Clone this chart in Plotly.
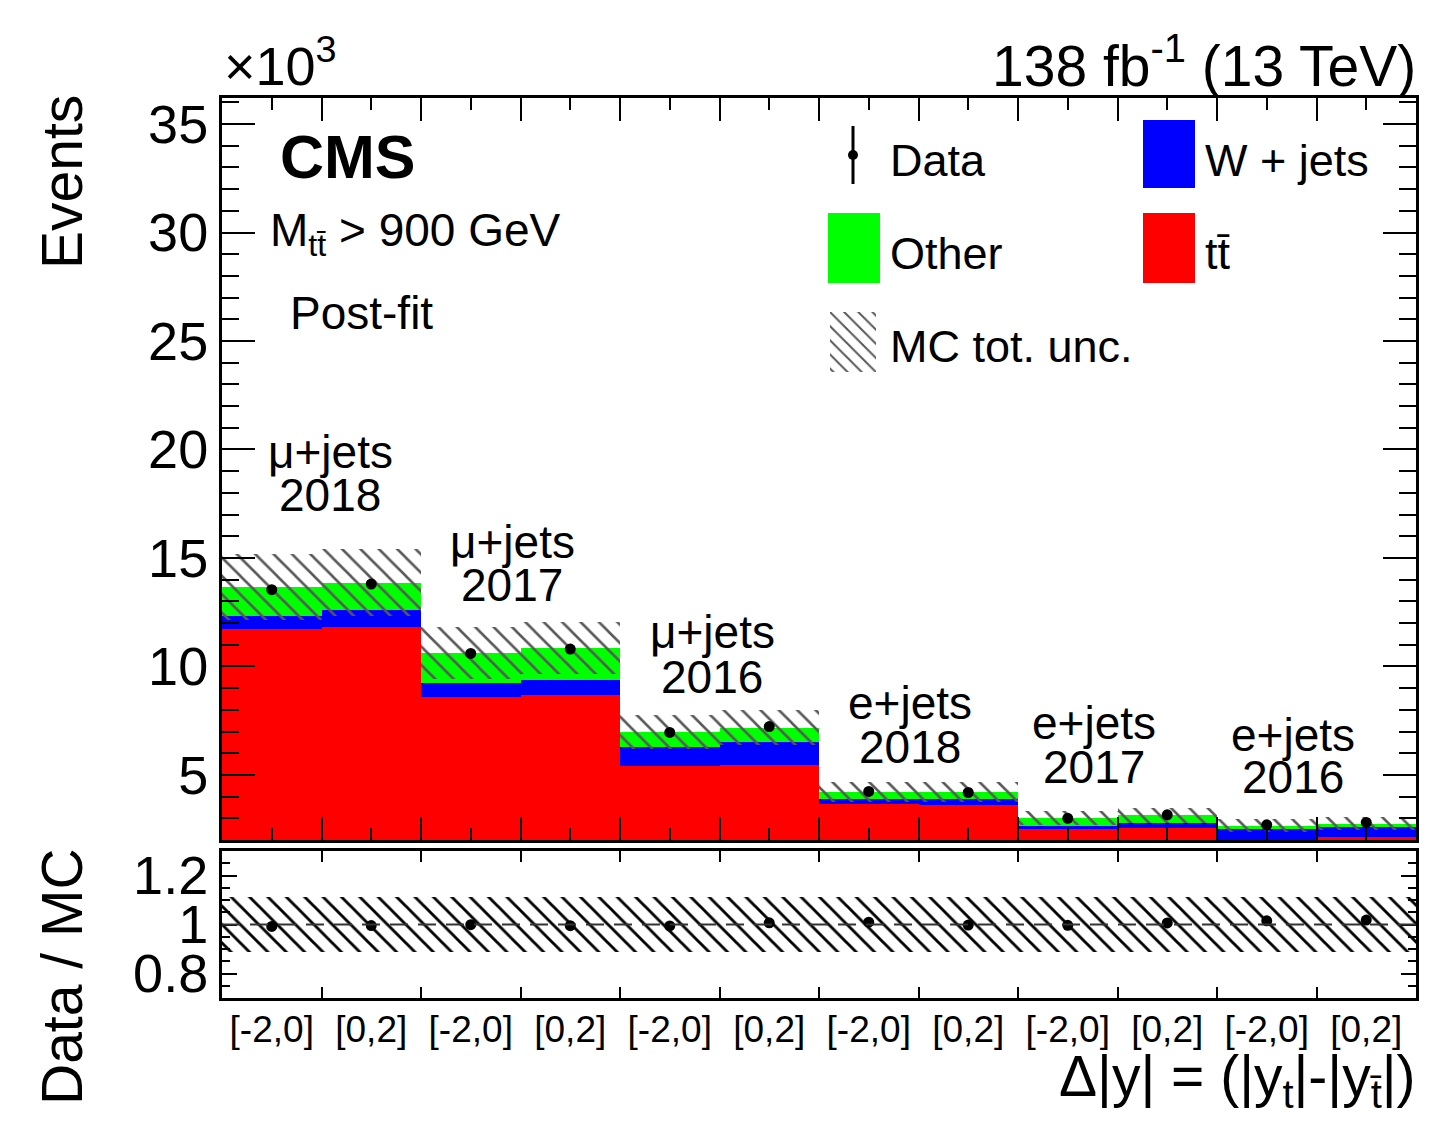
import math
import plotly.graph_objects as go

# ---- data (yields in units of 10^3 events) ----
bin_labels = ["[-2,0]", "[0,2]", "[-2,0]", "[0,2]", "[-2,0]", "[0,2]",
              "[-2,0]", "[0,2]", "[-2,0]", "[0,2]", "[-2,0]", "[0,2]"]
channel_names = ["μ+jets", "μ+jets", "μ+jets", "e+jets", "e+jets", "e+jets"]
channel_years = ["2018", "2017", "2016", "2018", "2017", "2016"]

ttbar = [11.73, 11.83, 8.61, 8.69, 5.41, 5.47, 3.68, 3.63, 2.50, 2.57, 1.98, 2.15]
wjets = [0.61, 0.77, 0.62, 0.69, 0.89, 1.06, 0.21, 0.26, 0.13, 0.23, 0.51, 0.45]
other = [1.31, 1.26, 1.38, 1.47, 0.70, 0.65, 0.31, 0.31, 0.38, 0.34, 0.17, 0.16]
data = [13.54, 13.80, 10.60, 10.80, 6.96, 7.23, 4.24, 4.19, 3.00, 3.16, 2.70, 2.81]
mc_unc_rel = [0.112, 0.112, 0.112, 0.112, 0.112, 0.112,
              0.112, 0.112, 0.112, 0.112, 0.112, 0.112]

# ---- derived quantities ----
nbins = len(bin_labels)
centers = [i + 0.5 for i in range(nbins)]
base_w = ttbar
base_o = [t + w for t, w in zip(ttbar, wjets)]
mc_total = [b + o for b, o in zip(base_o, other)]
unc_lo = [m * (1 - u) for m, u in zip(mc_total, mc_unc_rel)]
unc_h = [2 * m * u for m, u in zip(mc_total, mc_unc_rel)]
stat_err = [math.sqrt(d * 1000.0) / 1000.0 for d in data]
ratio = [d / m for d, m in zip(data, mc_total)]
ratio_err = [e / m for e, m in zip(stat_err, mc_total)]

# ---- canvas geometry ----
W, H = 1434, 1125
L, R, T, B = 222, 18, 98, 127
PW, PH = W - L - R, H - T - B
MAIN_BOTTOM, RATIO_TOP = 840, 851


def fx(px):
    return (px - L) / PW


def fy(py):
    return (H - B - py) / PH


FONT = "Liberation Sans, Arial, Helvetica, sans-serif"
RED, BLUE, GREEN = "#ff0000", "#0000ff", "#00ff00"
HATCH_GREY = "#585858"

fig = go.Figure()

# stacked backgrounds
for vals, base, col, name in [(ttbar, [0] * nbins, RED, "tt"),
                              (wjets, base_w, BLUE, "W + jets"),
                              (other, base_o, GREEN, "Other")]:
    fig.add_trace(go.Bar(x=centers, y=vals, base=base, width=1.0, name=name,
                         marker=dict(color=col, line=dict(width=0)),
                         xaxis="x", yaxis="y", showlegend=False))

# MC total uncertainty band
fig.add_trace(go.Bar(
    x=centers, y=unc_h, base=unc_lo, width=1.0, name="MC tot. unc.",
    marker=dict(color="rgba(0,0,0,0)", line=dict(width=0),
                pattern=dict(shape="\\", fgcolor=HATCH_GREY, bgcolor="rgba(0,0,0,0)",
                             size=13, solidity=0.2, fillmode="replace")),
    xaxis="x", yaxis="y", showlegend=False))

# data
fig.add_trace(go.Scatter(
    x=centers, y=data, mode="markers", name="Data",
    marker=dict(color="black", size=11),
    error_y=dict(type="data", array=stat_err, color="black", thickness=2, width=0),
    xaxis="x", yaxis="y", showlegend=False))

# ratio panel band
fig.add_trace(go.Bar(
    x=centers, y=[2 * u for u in mc_unc_rel], base=[1 - u for u in mc_unc_rel], width=1.0,
    marker=dict(color="rgba(0,0,0,0)", line=dict(width=0),
                pattern=dict(shape="\\", fgcolor="black", bgcolor="rgba(0,0,0,0)",
                             size=13, solidity=0.22, fillmode="replace")),
    xaxis="x2", yaxis="y2", showlegend=False))

fig.add_trace(go.Scatter(
    x=centers, y=ratio, mode="markers",
    marker=dict(color="black", size=11),
    error_y=dict(type="data", array=ratio_err, color="black", thickness=2, width=0),
    xaxis="x2", yaxis="y2", showlegend=False))

# hatch swatch for the legend entry
fig.add_trace(go.Bar(
    x=[0], y=[1], base=[0], width=1.0,
    marker=dict(color="rgba(0,0,0,0)", line=dict(width=0),
                pattern=dict(shape="\\", fgcolor=HATCH_GREY, bgcolor="rgba(0,0,0,0)",
                             size=10, solidity=0.2, fillmode="replace")),
    xaxis="x3", yaxis="y3", showlegend=False, hoverinfo="skip"))

main_dom = [fy(MAIN_BOTTOM), 1.0]
ratio_dom = [0.0, fy(RATIO_TOP)]

axis_common = dict(showline=True, linewidth=3, linecolor="black", mirror="ticks",
                   showgrid=False, zeroline=False, ticks="inside", tickcolor="black",
                   tickwidth=2)

fig.update_layout(
    width=W, height=H,
    margin=dict(l=L, r=R, t=T, b=B, pad=0),
    paper_bgcolor="white", plot_bgcolor="white",
    barmode="overlay", bargap=0,
    font=dict(family=FONT, color="black"),
    xaxis=dict(domain=[0, 1], range=[0, nbins], anchor="y",
               tickmode="array", tickvals=list(range(nbins + 1)), ticklen=23,
               showticklabels=False,
               minor=dict(tickmode="array", tickvals=centers, ticklen=12, ticks="inside",
                          tickcolor="black", tickwidth=2),
               **axis_common),
    yaxis=dict(domain=main_dom, range=[2, 36.2], anchor="x",
               tickmode="linear", tick0=0, dtick=5, ticklen=33,
               tickfont=dict(size=54, family=FONT),
               minor=dict(tickmode="linear", tick0=0, dtick=1, ticklen=17, ticks="inside",
                          tickcolor="black", tickwidth=2),
               **axis_common),
    xaxis2=dict(domain=[0, 1], range=[0, nbins], anchor="y2",
                tickmode="array", tickvals=centers, ticktext=bin_labels, ticklen=0,
                tickfont=dict(size=37, family=FONT), ticklabelstandoff=-3,
                minor=dict(tickmode="array", tickvals=list(range(nbins + 1)), ticklen=11,
                           ticks="inside", tickcolor="black", tickwidth=2),
                **axis_common),
    yaxis2=dict(domain=ratio_dom, range=[0.7, 1.3], anchor="x2",
                tickmode="linear", tick0=0, dtick=0.2, ticklen=15,
                tickfont=dict(size=54, family=FONT),
                minor=dict(tickmode="linear", tick0=0, dtick=0.05, ticklen=8, ticks="inside",
                           tickcolor="black", tickwidth=2),
                **axis_common),
    xaxis3=dict(domain=[fx(830), fx(876)], range=[-0.5, 0.5], anchor="y3", visible=False,
                fixedrange=True),
    yaxis3=dict(domain=[fy(372), fy(312)], range=[0, 1], anchor="x3", visible=False,
                fixedrange=True),
)

# unity reference line in the ratio panel
fig.add_shape(type="line", xref="x2", yref="y2", x0=0, x1=nbins, y0=1, y1=1,
              line=dict(color="#333333", width=2, dash="18px,10px"))


def text(px, py, s, size, xanchor="left", bold=False, angle=0):
    fig.add_annotation(x=fx(px), y=fy(py), xref="paper", yref="paper", text=s,
                       showarrow=False, xanchor=xanchor, yanchor="middle",
                       textangle=angle,
                       font=dict(size=size, family=FONT, color="black",
                                 weight="bold" if bold else "normal"))


# headers
text(222, 62, "×10<sup>3</sup>", 54)
text(1418, 62, "138 fb<sup>-1</sup> (13 TeV)", 57, xanchor="right")
text(278, 157, "CMS", 61, bold=True)
text(268, 233, "M<sub>tt̄</sub> > 900 GeV", 46)
text(288, 313, "Post-fit", 46)

# axis titles
text(62, 182, "Events", 57, xanchor="center", angle=-90)
text(62, 977, "Data / MC", 57, xanchor="center", angle=-90)
text(1418, 1080, "Δ|y| = (|y<sub>t</sub>|-|y<sub>t̄</sub>|)", 57, xanchor="right")

# channel / year labels
label_px = [330, 512, 712, 910, 1094, 1293]
label_py1 = [452, 542, 632, 703, 723, 735]
label_py2 = [495, 585, 677, 747, 767, 777]
for xp, y1, y2, ch, yr in zip(label_px, label_py1, label_py2, channel_names, channel_years):
    text(xp, y1, ch, 46, xanchor="center")
    text(xp, y2, yr, 46, xanchor="center")

# legend
def box(x0, y0, x1, y1, col):
    fig.add_shape(type="rect", xref="paper", yref="paper",
                  x0=fx(x0), x1=fx(x1), y0=fy(y1), y1=fy(y0),
                  fillcolor=col, line=dict(width=0))


fig.add_shape(type="line", xref="paper", yref="paper", x0=fx(853), x1=fx(853),
              y0=fy(184), y1=fy(126), line=dict(color="black", width=3))
fig.add_shape(type="circle", xref="paper", yref="paper",
              x0=fx(848), x1=fx(858), y0=fy(160), y1=fy(150),
              fillcolor="black", line=dict(width=0))
text(888, 160, "Data", 45)
box(1143, 120, 1195, 188, BLUE)
text(1203, 160, "W + jets", 45)
box(828, 213, 880, 283, GREEN)
text(888, 253, "Other", 45)
box(1143, 213, 1195, 283, RED)
text(1203, 253, "tt̄", 45)
text(888, 346, "MC tot. unc.", 45)

fig.write_html("out.html")
